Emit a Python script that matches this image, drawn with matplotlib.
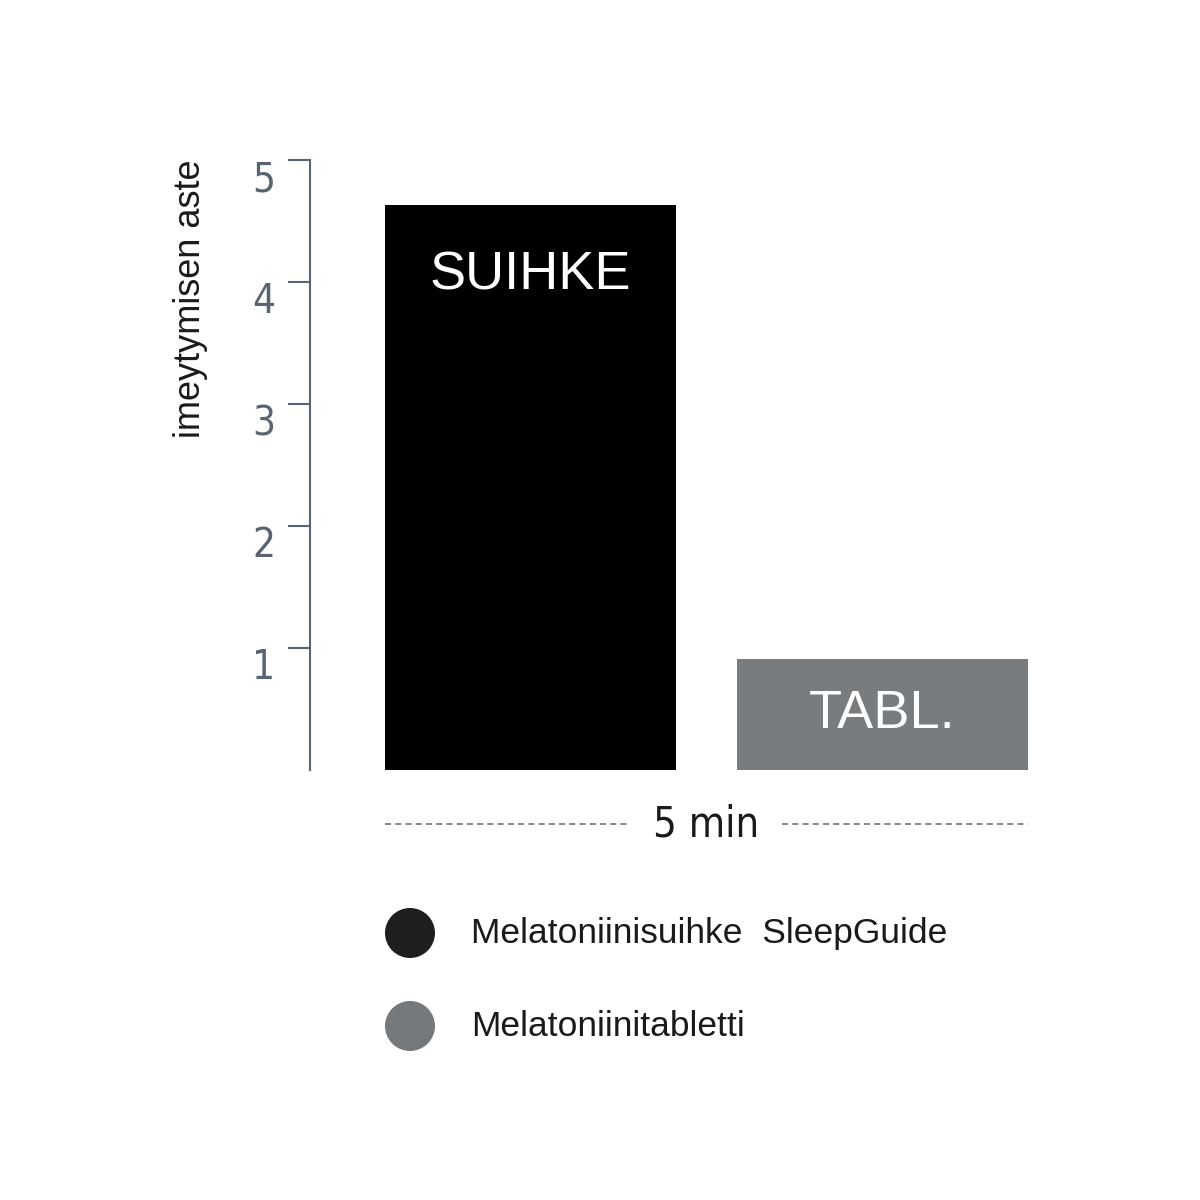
import matplotlib
matplotlib.use("Agg")
import matplotlib.pyplot as plt
from matplotlib.patches import Circle

# data
categories = ["SUIHKE", "TABL."]
values = [4.63, 0.91]
legend_labels = ["Melatoniinisuihke  SleepGuide", "Melatoniinitabletti"]
yticks = [1, 2, 3, 4, 5]
time_label = "5 min"
ylabel = "imeytymisen aste"

bar_colors = ["#000000", "#787c7f"]
dot_colors = ["#1e1e1e", "#76797c"]
axis_color = "#5a6470"
regular = ["Liberation Sans", "DejaVu Sans"]

fig = plt.figure(figsize=(12, 12), dpi=100)
ax = fig.add_axes([310 / 1200, 1 - 770 / 1200, (1028 - 310) / 1200, (770 - 160) / 1200])

x = [0, 1]
width = 291 / 352
bars = ax.bar(x, values, width=width, color=bar_colors)
ax.set_xlim(-0.626, 1.413)
ax.set_ylim(0, 5)

# labels inside bars
ax.text(x[0], values[0] - 0.58, categories[0], ha="center", va="center",
        color="white", fontsize=39, family=regular)
ax.text(x[1], values[1] / 2, categories[1], ha="center", va="center",
        color="white", fontsize=39, family=regular)

# axes styling
for s in ["top", "right", "bottom"]:
    ax.spines[s].set_visible(False)
ax.spines["left"].set_color(axis_color)
ax.spines["left"].set_linewidth(1.5)
ax.set_xticks([])
ax.set_yticks(yticks)
ax.set_yticklabels([str(t) for t in yticks], family="DejaVu Sans", stretch="condensed",
                   fontsize=29, color=axis_color)
ax.tick_params(axis="y", length=16, width=1.5, color=axis_color, pad=9)
for t in ax.get_yticklabels():
    t.set_verticalalignment("top")

fig.text(190 / 1200, 1 - 160 / 1200, ylabel, rotation=90, ha="center", va="top",
         fontsize=26, family=regular, color="#1a1a1a")

# time axis with dashed lines
y_time = -0.443
ax.plot([-0.413, 0.283], [y_time, y_time], ls=(0, (4, 2.7)), lw=1.1, color="#5f6873", clip_on=False)
ax.plot([0.714, 1.413], [y_time, y_time], ls=(0, (4, 2.7)), lw=1.1, color="#5f6873", clip_on=False)
ax.text(0.5, y_time, time_label, ha="center", va="center", fontsize=30,
        family="DejaVu Sans", stretch="condensed", color="#1a1a1a", clip_on=False)

# legend
for i, (lab, c) in enumerate(zip(legend_labels, dot_colors)):
    yy = 1 - (934 + i * 93) / 1200
    fig.add_artist(Circle((410 / 1200, yy + 1 / 1200), 25 / 1200, transform=fig.transFigure,
                          color=c, lw=0))
    fig.text(471 / 1200, yy, lab, ha="left", va="center", fontsize=25.5,
             family=regular, color="#1a1a1a")

fig.savefig("out.png", dpi=100, facecolor="white")
